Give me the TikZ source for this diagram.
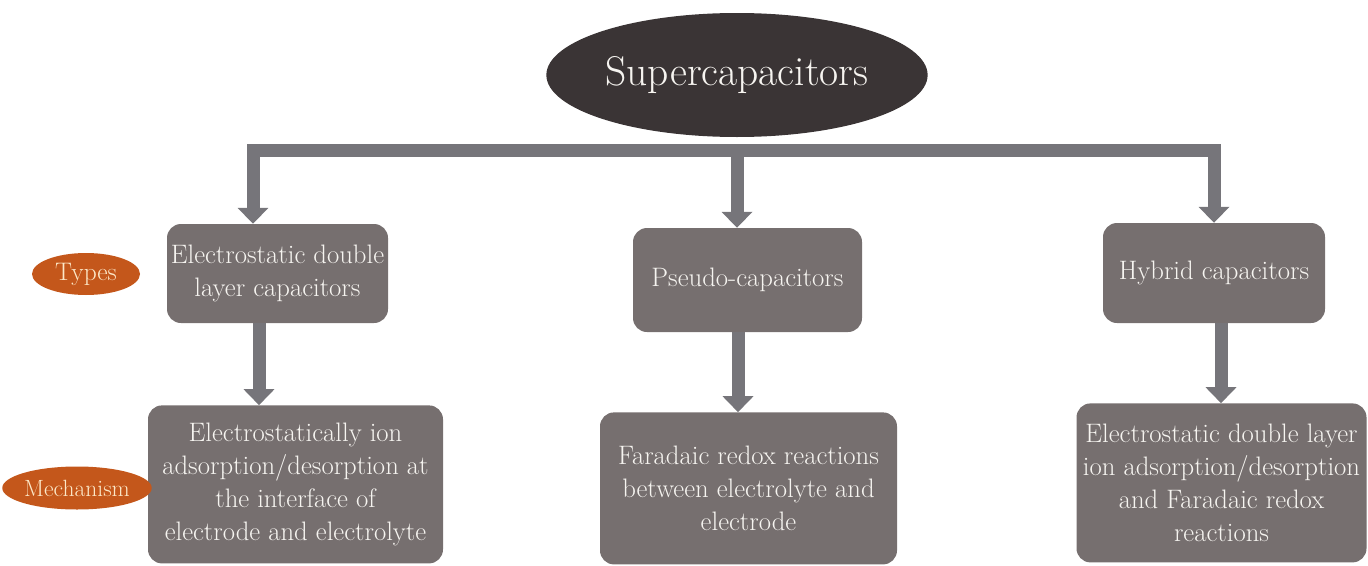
\documentclass[tikz,border=0pt]{standalone}
\usetikzlibrary{positioning, shapes.geometric, arrows.meta}

\definecolor{boxgray}{RGB}{118,111,111}
\definecolor{arrowgray}{RGB}{118,117,122}
\definecolor{topdark}{RGB}{58,52,53}
\definecolor{tagorange}{RGB}{196,87,27}
\definecolor{tagtext}{RGB}{252,232,200}
\definecolor{boxtext}{RGB}{246,244,240}

\begin{document}
\begin{tikzpicture}[x=1pt, y=-1pt,
node distance = 81pt and 20pt,
fat/.style = {draw=arrowgray, line width=13pt, line join=miter,
	-{Triangle[width=30pt,length=16pt]}},
kind/.style = {rectangle, rounded corners=14pt, fill=boxgray,
	text=boxtext, inner sep=0pt, align=center,
	font=\fontsize{26.7}{33}\selectfont},
tag/.style = {ellipse, fill=tagorange, text=tagtext, inner sep=0pt}
]
\useasboundingbox (0,0) rectangle (1368,565);
% Draw the root
\node[ellipse, fill=topdark, text=boxtext, minimum width=370pt,
minimum height=124pt, font=\fontsize{41.5}{46}\selectfont] (Sup) at (737,75) {Supercapacitors};
% Draw the types row
\node[kind, minimum width=221pt, minimum height=99pt] (T-1) at (277.5,273.5)
{Electrostatic double\\layer capacitors};
\node[kind, minimum width=229pt, minimum height=104pt] (T-2) at (747.5,280)
{Pseudo-capacitors};
\node[kind, minimum width=222pt, minimum height=100pt] (T-3) at (1214,273)
{Hybrid capacitors};
% Draw the mechanism row
\node[kind, minimum width=295pt, minimum height=158pt,
below=82pt of T-1, xshift=18pt] (M-1)
{Electrostatically ion\\adsorption/desorption at\\the interface of\\electrode and electrolyte};
\node[kind, minimum width=297pt, minimum height=152pt,
below=80pt of T-2, xshift=1pt] (M-2)
{Faradaic redox reactions\\between electrolyte and\\electrode};
\node[kind, minimum width=290pt, minimum height=159pt,
below=80pt of T-3, xshift=7.5pt] (M-3)
{Electrostatic double layer\\ion adsorption/desorption\\and Faradaic redox\\reactions};
% Draw the row labels
\node[tag, minimum width=108pt, minimum height=42pt,
font=\fontsize{25.4}{27}\selectfont] (Types) at (86,274) {Types};
\node[tag, minimum width=134pt, minimum height=43pt,
font=\fontsize{23.5}{25}\selectfont] (Mech) at (77,488) {Mechanism};

% Connect the root with the types and 
%  the types with their mechanisms
\coordinate (hub) at (737,150);
\draw[fat, {Triangle[width=30pt,length=16pt]}-{Triangle[width=30pt,length=16pt]}]
([xshift=-24.5pt]T-1.north) |- (hub) -| (T-3.north);
\draw[fat] (hub) -- (hub |- T-2.north);
\draw[fat] ([xshift=-18.5pt]T-1.south) -- ([xshift=-18.5pt]T-1.south |- M-1.north);
\draw[fat] ([xshift=-9.5pt]T-2.south) -- ([xshift=-9.5pt]T-2.south |- M-2.north);
\draw[fat] ([xshift=7pt]T-3.south) -- ([xshift=7pt]T-3.south |- M-3.north);
\end{tikzpicture}
\end{document}
